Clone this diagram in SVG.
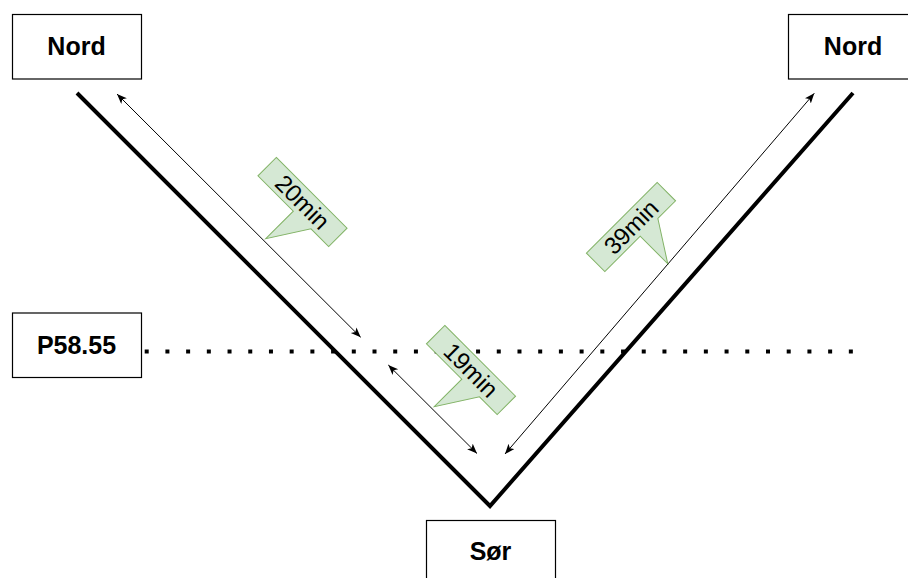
<svg xmlns="http://www.w3.org/2000/svg" width="908" height="578" viewBox="0 0 908 578">
  <style>
    .box { fill: #ffffff; stroke: #000000; stroke-width: 1.2; }
    .lbl { font-family: "Liberation Sans", Arial, sans-serif; font-size: 25px; font-weight: bold; fill: #000000; text-anchor: middle; }
    .call { fill: #d5e8d4; stroke: #82b366; stroke-width: 1; }
    .calltxt { font-family: "Liberation Sans", Arial, sans-serif; font-size: 24px; fill: #000000; text-anchor: middle; }
    .road { fill: none; stroke: #000000; stroke-width: 4; stroke-linejoin: miter; stroke-linecap: butt; }
    .dist { fill: none; stroke: #000000; stroke-width: 1; marker-start: url(#tip); marker-end: url(#tip); }
    .level { stroke: #000000; stroke-width: 4; stroke-dasharray: 4 16.71; }
  </style>
  <defs>
    <marker id="tip" markerUnits="userSpaceOnUse" markerWidth="12" markerHeight="10" refX="10" refY="4" orient="auto-start-reverse">
      <path d="M0,0 L10,4 L0,8 L2.5,4 Z" fill="#000000"/>
    </marker>
    <path id="callout" d="M-50,-13 H50 V13 H25 L0,52 V13 H-50 Z"/>
  </defs>

  <g id="connectors">
    <!-- road: two legs meeting at Sør -->
    <polyline class="road" points="77,93 490,506 853,93"/>
    <!-- P58.55 level -->
    <line class="level" x1="144.7" y1="351.5" x2="856" y2="351.5"/>
    <!-- distance arrows -->
    <line class="dist" x1="117" y1="94" x2="360.7" y2="337.3"/>
    <line class="dist" x1="388.3" y1="365" x2="477" y2="453.5"/>
    <line class="dist" x1="505" y1="454" x2="814.3" y2="93.3"/>
  </g>

  <g id="nord-left">
    <rect class="box" x="12.5" y="14.5" width="129" height="64.5"/>
    <text class="lbl" x="76.5" y="55">Nord</text>
  </g>
  <g id="nord-right">
    <rect class="box" x="788.5" y="14.5" width="129" height="64.5"/>
    <text class="lbl" x="853" y="55">Nord</text>
  </g>
  <g id="p5855">
    <rect class="box" x="12.5" y="313" width="129" height="64.5"/>
    <text class="lbl" x="76.5" y="354">P58.55</text>
  </g>
  <g id="sor">
    <rect class="box" x="426.5" y="520.5" width="129" height="64.5"/>
    <text class="lbl" x="490.5" y="560">Sør</text>
  </g>

  <g id="callout-20min" transform="translate(302.5,202) rotate(45)">
    <use href="#callout" class="call"/>
    <text class="calltxt" x="0" y="8.5">20min</text>
  </g>
  <g id="callout-19min" transform="translate(471,370) rotate(45)">
    <use href="#callout" class="call"/>
    <text class="calltxt" x="0" y="8.5">19min</text>
  </g>
  <g id="callout-39min" transform="translate(631,227) rotate(-45)">
    <use href="#callout" class="call"/>
    <text class="calltxt" x="0" y="8.5">39min</text>
  </g>
</svg>
